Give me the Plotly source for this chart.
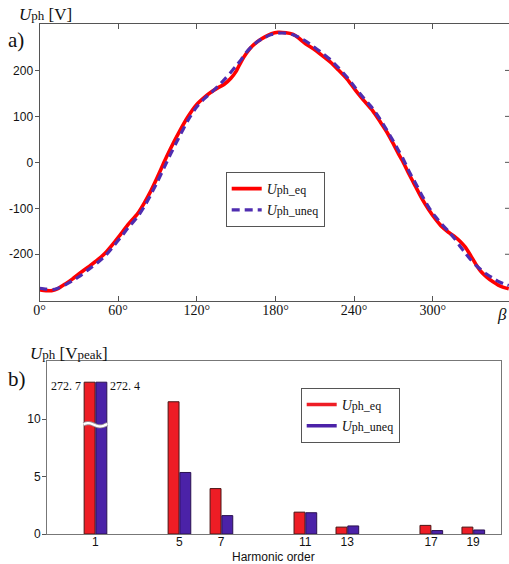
import numpy as np
import plotly.graph_objects as go

# ---- (a) phase voltage waveform over rotor angle ----
beta_deg = [0, 5, 10, 14, 20, 25, 30, 37, 44, 50, 56, 62, 68, 75, 80, 85, 90, 95, 100,
            106, 113, 120, 126, 131, 136, 141, 146, 150, 154, 158, 162, 167, 172, 177,
            182, 188, 193, 198, 203, 209, 215, 222, 228, 235, 241, 247, 254, 260, 265,
            270, 274, 277, 282, 287, 292, 297, 302, 307, 312, 317, 321, 325, 329, 333,
            337, 341, 346, 350, 354, 358]
u_eq = [-277, -279, -279, -275, -264, -254, -243, -228, -213, -198, -178, -156, -134,
        -111, -88, -62, -32, 0, 30, 63, 98, 126, 142, 153, 162, 170, 183, 198, 220, 238,
        252, 264, 273, 280, 283, 282, 279, 270, 258, 247, 234, 218, 201, 180, 157, 136,
        113, 88, 66, 40, 18, 3, -26, -53, -80, -103, -123, -140, -152, -162, -172, -185,
        -203, -222, -238, -249, -260, -267, -272, -275]
u_uneq = [-274, -276, -277, -274, -266, -258, -249, -234, -219, -204, -184, -163, -141,
          -118, -96, -70, -42, -12, 18, 52, 90, 121, 139, 152, 165, 180, 196, 210, 224,
          240, 252, 264, 272, 278, 281, 281, 278, 272, 264, 252, 239, 223, 206, 184, 162,
          141, 118, 93, 70, 46, 25, 10, -20, -46, -73, -98, -118, -135, -150, -167, -183,
          -198, -212, -224, -234, -243, -252, -259, -264, -268]
angle_ticks = [0, 60, 120, 180, 240, 300]
volt_ticks = [-200, -100, 0, 100, 200]

# ---- (b) harmonic spectrum ----
harmonics = [1, 5, 7, 11, 13, 17, 19]
h_eq = [272.7, 11.5, 3.95, 1.9, 0.6, 0.75, 0.6]
h_uneq = [272.4, 5.35, 1.6, 1.85, 0.7, 0.3, 0.35]
peak_ticks = [0, 5, 10]

# drawn height of bars that run past the broken axis
BREAK_TOP = 13.2
BREAK_AT = 9.5

RED = "#ff0000"
BLUE = "#4f2db0"
BAR_RED = "#ee1d25"
BAR_BLUE = "#4b22a8"
SERIF = "Liberation Serif, Times New Roman, serif"
SANS = "Liberation Sans, Arial, sans-serif"

W, H = 509, 564


def px(x):
    return x / W


def py(y):
    return 1 - y / H


def name_html(sub):
    return "<i>U</i><span style='font-size:12px'>%s</span>" % sub


fig = go.Figure()

fig.add_trace(go.Scatter(x=beta_deg, y=u_eq, mode="lines", name=name_html("ph_eq"),
                         line=dict(color=RED, width=3.6, shape="spline", smoothing=0.6),
                         xaxis="x", yaxis="y", legend="legend"))
fig.add_trace(go.Scatter(x=beta_deg, y=u_uneq, mode="lines", name=name_html("ph_uneq"),
                         line=dict(color=BLUE, width=3.2, dash="8px,5px", shape="spline",
                                   smoothing=0.6),
                         xaxis="x", yaxis="y", legend="legend"))

shown_eq = [min(v, BREAK_TOP) for v in h_eq]
shown_uneq = [min(v, BREAK_TOP) for v in h_uneq]

fig.add_trace(go.Bar(x=harmonics, y=shown_eq, width=0.52, offset=-0.53,
                     marker=dict(color=BAR_RED, line=dict(color="#4a1515", width=1)),
                     xaxis="x2", yaxis="y2", showlegend=False))
fig.add_trace(go.Bar(x=harmonics, y=shown_uneq, width=0.52, offset=0.03,
                     marker=dict(color=BAR_BLUE, line=dict(color="#2a1050", width=1)),
                     xaxis="x2", yaxis="y2", showlegend=False))

# legend entries for the spectrum, drawn as line samples
fig.add_trace(go.Scatter(x=[None], y=[None], mode="lines", name=name_html("ph_eq"),
                         line=dict(color=BAR_RED, width=3.5),
                         xaxis="x2", yaxis="y2", legend="legend2"))
fig.add_trace(go.Scatter(x=[None], y=[None], mode="lines", name=name_html("ph_uneq"),
                         line=dict(color=BAR_BLUE, width=3.5),
                         xaxis="x2", yaxis="y2", legend="legend2"))

annotations = []
# values of the bars cut by the axis break
for h, ve, vu in zip(harmonics, h_eq, h_uneq):
    if ve > BREAK_TOP:
        annotations.append(dict(x=h - 0.58, y=BREAK_TOP - 0.3, xref="x2", yref="y2",
                                text=f"{ve:.1f}".replace(".", ". "), showarrow=False,
                                xanchor="right", yanchor="middle",
                                font=dict(family=SERIF, size=12, color="#111")))
    if vu > BREAK_TOP:
        annotations.append(dict(x=h + 0.6, y=BREAK_TOP - 0.3, xref="x2", yref="y2",
                                text=f"{vu:.1f}".replace(".", ". "), showarrow=False,
                                xanchor="left", yanchor="middle",
                                font=dict(family=SERIF, size=12, color="#111")))

annotations += [
    dict(x=px(17), y=py(15), xref="paper", yref="paper", xanchor="left", yanchor="middle",
         text="<i>U</i><span style='font-size:13px'>ph</span> [V]", showarrow=False,
         font=dict(family=SERIF, size=17, color="#111")),
    dict(x=px(6), y=py(40), xref="paper", yref="paper", xanchor="left", yanchor="middle",
         text="a)", showarrow=False, font=dict(family=SERIF, size=21, color="#111")),
    dict(x=1.0, y=py(314), xref="paper", yref="paper", xanchor="right", yanchor="middle",
         text="<i>β</i>", showarrow=False, font=dict(family=SERIF, size=17, color="#111")),
    dict(x=px(28), y=py(353), xref="paper", yref="paper", xanchor="left", yanchor="middle",
         text="<i>U</i><span style='font-size:13px'>ph</span> [V<span style='font-size:13px'>peak</span>]",
         showarrow=False, font=dict(family=SERIF, size=17, color="#111")),
    dict(x=px(6), y=py(379), xref="paper", yref="paper", xanchor="left", yanchor="middle",
         text="b)", showarrow=False, font=dict(family=SERIF, size=21, color="#111")),
    dict(x=px(273), y=py(557), xref="paper", yref="paper", xanchor="center",
         yanchor="middle", text="Harmonic order", showarrow=False,
         font=dict(family=SANS, size=12, color="#111")),
]

shapes = []
# inward ticks on the right edge of panel (a)
for v in volt_ticks:
    shapes.append(dict(type="line", xref="x domain", yref="y", x0=1, x1=1 - 4 / 469.5,
                       y0=v, y1=v, line=dict(color="#555", width=1)))

# wavy break across the fundamental bars
for h, ve, vu in zip(harmonics, h_eq, h_uneq):
    if max(ve, vu) > BREAK_TOP:
        xs = np.linspace(h - 0.56, h + 0.58, 40)
        ys = BREAK_AT + 0.14 * np.sin((xs - (h - 0.56)) / 0.56 * np.pi * 1.0 + 0.3)
        path = "M " + " L ".join(f"{a:.4f},{b:.4f}" for a, b in zip(xs, ys))
        shapes.append(dict(type="path", xref="x2", yref="y2", path=path,
                           line=dict(color="#9a8f9a", width=4)))
        shapes.append(dict(type="path", xref="x2", yref="y2", path=path,
                           line=dict(color="white", width=2.2)))

fig.update_layout(
    width=W, height=H, autosize=False,
    margin=dict(l=0, r=0, t=0, b=0, autoexpand=False),
    paper_bgcolor="white", plot_bgcolor="white",
    showlegend=True,
    xaxis=dict(domain=[px(39.5), 1.0], range=[0, 358.2], anchor="y", automargin=False,
               tickvals=angle_ticks, ticktext=[f"{a}°" for a in angle_ticks],
               ticks="inside", ticklen=5, tickcolor="#555", showline=True,
               linecolor="#555", linewidth=1, mirror="ticks", showgrid=False,
               zeroline=False, ticklabelstandoff=-4,
               tickfont=dict(family=SERIF, size=14, color="#111")),
    yaxis=dict(domain=[py(300.7), py(24)], range=[-301, 301], anchor="x", automargin=False,
               tickvals=volt_ticks, ticktext=[str(v) for v in volt_ticks],
               ticks="outside", ticklen=4, tickcolor="#555", showline=True,
               linecolor="#555", linewidth=1, mirror=False, showgrid=False,
               zeroline=False, ticklabelstandoff=-1,
               tickfont=dict(family=SANS, size=12, color="#111")),
    xaxis2=dict(domain=[px(47), px(501)], range=[-1.3, 20.33], anchor="y2",
                automargin=False, tickvals=harmonics, ticktext=[str(h) for h in harmonics],
                ticks="", showline=True, linecolor="#777", linewidth=1, mirror=True,
                showgrid=False, zeroline=False, ticklabelstandoff=-3,
                tickfont=dict(family=SANS, size=12, color="#111")),
    yaxis2=dict(domain=[py(534), py(360.7)], range=[0, 15.07], anchor="x2",
                automargin=False, tickvals=peak_ticks, ticks="outside", ticklen=4,
                tickcolor="#555", showline=True, linecolor="#777", linewidth=1,
                mirror=True, showgrid=False, zeroline=False, ticklabelstandoff=-1,
                tickfont=dict(family=SANS, size=12, color="#111")),
    legend=dict(x=px(225.7), y=py(172), xanchor="left", yanchor="top",
                bgcolor="white", bordercolor="#555", borderwidth=1,
                font=dict(family=SERIF, size=14, color="#111"), tracegroupgap=0,
                itemwidth=30),
    legend2=dict(x=px(300.7), y=py(388), xanchor="left", yanchor="top",
                 bgcolor="white", bordercolor="#555", borderwidth=1,
                 font=dict(family=SERIF, size=14, color="#111"), tracegroupgap=0,
                 itemwidth=30),
    annotations=annotations,
    shapes=shapes,
)

fig.write_html("out.html")
